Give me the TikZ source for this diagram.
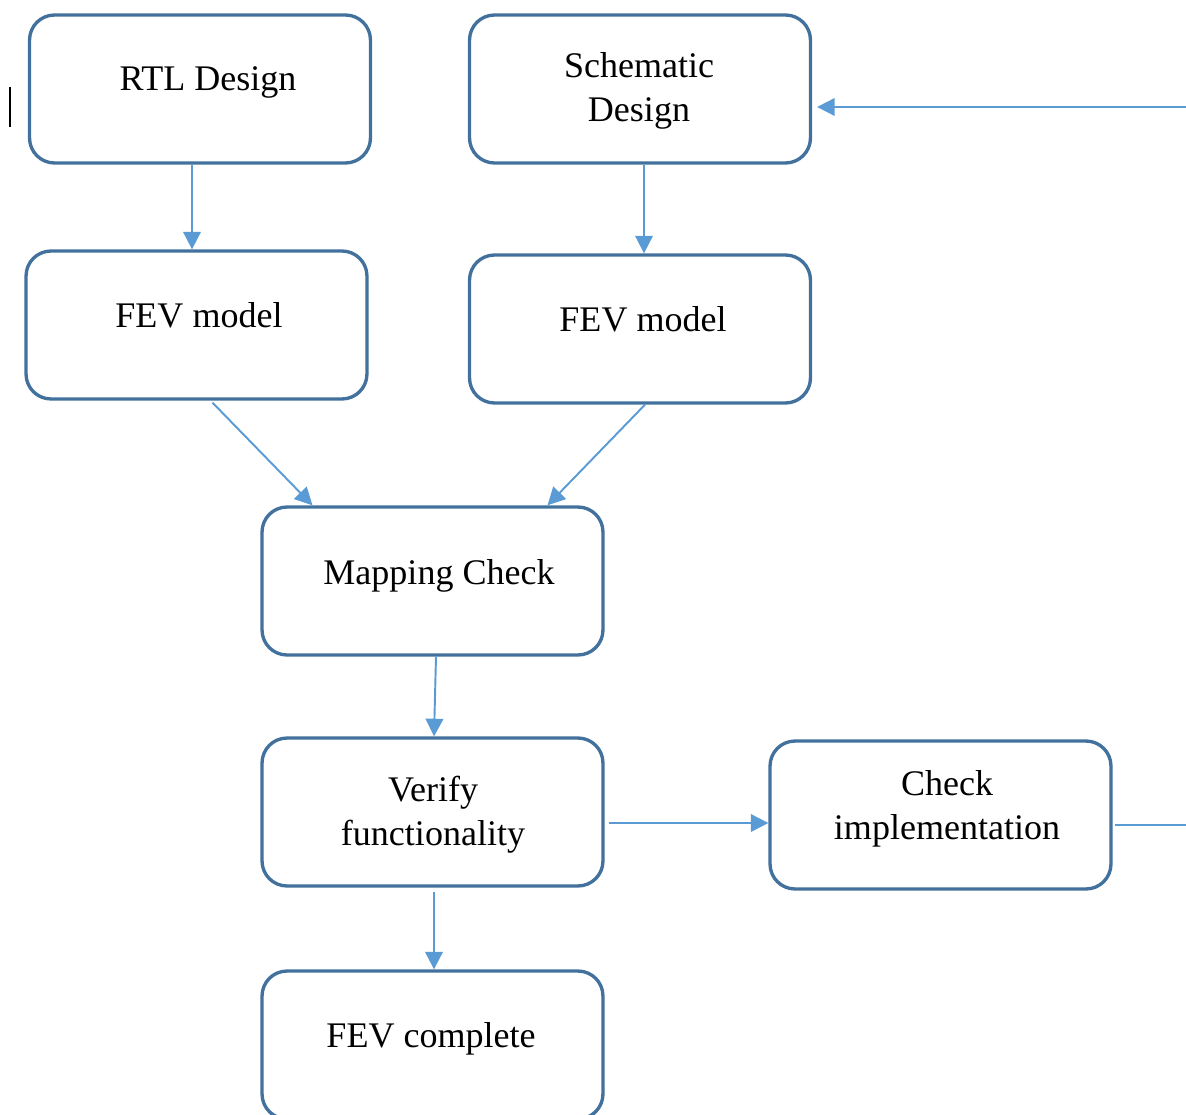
\documentclass[tikz,border=0pt]{standalone}
\usepackage{fontspec}
\setmainfont{Liberation Serif}
\usetikzlibrary{arrows.meta,calc}
\definecolor{boxblue}{HTML}{41719C}
\definecolor{arrblue}{HTML}{5B9BD5}
\begin{document}
\begin{tikzpicture}[x=0.02cm,y=-0.02cm,
  box/.style={draw=boxblue,line width=1.9pt,rounded corners=0.5cm,
    minimum width=6.82cm,minimum height=2.96cm,inner sep=0pt,fill=white},
  txt/.style={font=\fontsize{20.5}{25}\selectfont,inner sep=0pt,align=center,text=black},
  arr/.style={draw=arrblue,line width=1.1pt,-{Triangle[length=10pt,width=10pt]}},
  plain/.style={draw=arrblue,line width=1.1pt}]
\useasboundingbox (0,0) rectangle (1186,1115);
\clip (0,0) rectangle (1186,1115);
\fill[white] (0,0) rectangle (1186,1115);
% cursor mark
\draw[black,line width=1.2pt] (10,87) -- (10,127);
% boxes
\node[box] (rtl)  at (200,89)   {};
\node[box] (sch)  at (640,89)   {};
\node[box] (fevl) at (196.5,325) {};
\node[box] (fevr) at (640,329)  {};
\node[box] (map)  at (432.5,581) {};
\node[box] (ver)  at (432.5,812) {};
\node[box] (chk)  at (940.5,815) {};
\node[box] (comp) at (432.5,1045) {};
% texts
\node[txt,anchor=base] (rtlT) at (208,91) {RTL Design};
\node[txt] (schT) at (639,91) {Schematic\\Design};
\node[txt,anchor=base] (fevlT) at (199,327) {FEV model};
\node[txt,anchor=base] (fevrT) at (643,331) {FEV model};
\node[txt,anchor=base] (mapT) at (439,584) {Mapping Check};
\node[txt] (verT) at (433,815) {Verify\\functionality};
\node[txt] (chkT) at (947,809) {Check\\implementation};
\node[txt,anchor=base] (compT) at (431,1047) {FEV complete};
% edge coordinates
\coordinate (edgeR) at (1186,825);
\coordinate (edgeT) at (1186,107);
% connectors
\draw[arr] ($(rtl.south)+(-8,0)$) -- ($(fevl.north)+(-4.5,0)$);
\draw[arr] ($(sch.south)+(4,0)$) -- ($(fevr.north)+(4,0)$);
\draw[arr] ($(fevl.south)+(16,2)$) -- ($(map.north)+(-120,0)$);
\draw[arr] ($(fevr.south)+(5,0)$) -- ($(map.north)+(115,0)$);
\draw[arr] ($(map.south)+(3.5,0)$) -- ($(ver.north)+(1.5,0)$);
\draw[arr] ($(ver.east)+(4,11)$) -- ($(chk.west)+(0,8)$);
\draw[arr] ($(ver.south)+(1.5,4)$) -- ($(comp.north)+(1.5,0)$);
\draw[plain] ($(chk.east)+(2,10)$) -- (edgeR);
\draw[arr] (edgeT) -- ($(sch.east)+(5,18)$);
\end{tikzpicture}
\end{document}
